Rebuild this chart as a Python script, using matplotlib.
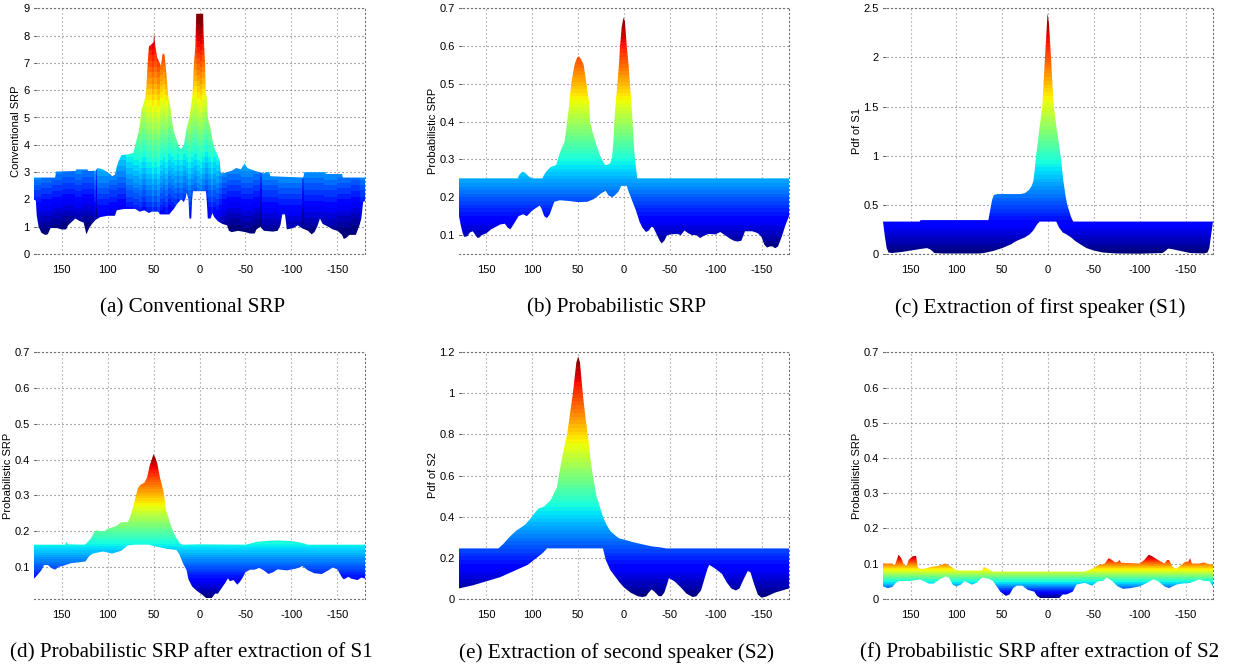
# 六个子图: SRP 曲面的侧视轮廓, 用上下包络 + jet 渐变来画
import numpy as np
import matplotlib
matplotlib.use("Agg")
from matplotlib import pyplot as plt
from matplotlib.patches import Polygon

# (角度, 数值) 从图上读出来的包络
a_top = [(180,2.8),(157,2.8),(156,3.02),(135,3.04),(134,3.1),(122,3.1),(121,3.04),(113,3.05),(111,3.15),(105,3.1),(98,2.95),(95,2.85),(92,2.9),(90,3.2),(88,3.4),(85,3.62),(78,3.65),(72,3.7),(70,3.98),(66,4.5),(65,4.76),(63,5.3),(60,5.6),(58,6.0),(56,7.2),(55,7.6),(50,7.75),(49.5,8.1),(48,7.6),(46,7.2),(42,6.9),(40,7.35),(38,7.3),(36,6.6),(34,5.8),(32,5.45),(30,4.9),(28,4.5),(25,4.2),(22,3.9),(20,3.85),(17,4.0),(14,4.6),(11,5.0),(8,5.7),(7,6.2),(6,7.0),(4.5,7.6),(3.6,8.8),(-4,8.8),(-4.5,8.0),(-6,7.0),(-7,6.0),(-8.5,5.5),(-9,5.0),(-12,4.6),(-14,4.2),(-16,3.9),(-20,3.6),(-22,3.4),(-23,3.0),(-25,2.95),(-30,3.0),(-35,3.05),(-40,3.15),(-45,3.1),(-49,3.32),(-52,3.15),(-60,3.05),(-65,3.0),(-70,2.95),(-72,3.0),(-76,3.0),(-77,2.85),(-113,2.8),(-114,3.0),(-137,3.0),(-138,2.93),(-155,2.93),(-156,2.8),(-180,2.8)]
a_low = [(180,2.0),(178,1.95),(177,1.4),(175,1.0),(172,0.78),(168,0.7),(165,0.72),(162,0.95),(155,0.95),(150,0.9),(145,0.9),(143,1.05),(135,1.3),(130,1.2),(126,1.15),(123,0.72),(120,0.95),(117,1.1),(113,1.25),(108,1.35),(100,1.4),(92,1.4),(90,1.6),(82,1.65),(75,1.65),(70,1.65),(65,1.55),(60,1.6),(55,1.5),(52,1.55),(45,1.55),(43,1.45),(35,1.45),(33,1.45),(28,1.65),(24,1.85),(20,2.0),(17,1.9),(15,2.05),(14,2.25),(12,2.0),(11,1.3),(9,1.3),(8,2.0),(7,2.3),(-7,2.3),(-8,1.9),(-9,1.3),(-12,1.3),(-14,1.5),(-16,1.35),(-20,1.2),(-25,1.1),(-30,1.05),(-32,0.85),(-35,0.8),(-42,0.85),(-50,0.8),(-55,0.75),(-60,0.75),(-62,0.9),(-66,1.0),(-70,0.85),(-80,0.82),(-85,0.85),(-88,1.05),(-90,1.45),(-93,1.45),(-95,0.9),(-102,0.95),(-107,1.05),(-111,0.95),(-118,0.85),(-122,0.72),(-125,0.8),(-128,1.0),(-131,1.3),(-134,1.1),(-140,1.0),(-145,0.9),(-150,0.85),(-155,0.7),(-157,0.55),(-160,0.6),(-163,0.7),(-170,0.7),(-174,1.05),(-176,1.3),(-178,1.9),(-180,1.95)]
# (a) 的竖条纹: 每段起始角度和颜色偏移
a_shade = [(180,-.1),(172,-.2),(160,-.3),(150,-.4),(135,-.3),(128,-.4),(115,-.1),(113,-.7),(111,0),(98,-.1),(90,-.2),(80,.1),(72,.2),(66,.3),(62,.1),(58,.3),(52,.5),(49,.3),(46,.5),(43,.2),(40,.1),(37,.3),(34,0),(31,.1),(28,.2),(25,0),(22,.2),(18,0),(15,.1),(12,.3),(9,.1),(6,0),(3,.2),(0,.3),(-3,.1),(-6,-.1),(-9,.1),(-12,.3),(-15,.1),(-18,.2),(-21,0),(-24,-.2),(-30,-.3),(-45,-.2),(-58,-.3),(-66,-.6),(-68,-.1),(-85,0),(-100,0),(-112,-.5),(-114,-.15),(-135,-.1),(-150,-.2),(-165,-.3),(-175,-.1)]

b_top = [(180,.25),(116,.25),(114,.26),(111,.267),(108,.265),(104,.255),(100,.25),(89,.25),(87,.26),(84,.27),(80,.28),(74,.285),(71,.31),(68,.33),(65,.345),(63,.38),(60,.44),(57.6,.5),(54,.55),(51,.57),(49,.572),(47,.565),(44,.55),(41,.5),(38,.45),(37,.4),(34,.37),(31.5,.35),(29,.33),(26,.31),(23,.295),(20.6,.285),(19,.285),(15,.29),(13,.305),(11.5,.35),(10.5,.4),(9,.45),(7.2,.5),(5.5,.55),(4.3,.6),(2.5,.65),(.5,.675),(-1,.665),(-3,.6),(-5,.55),(-6.5,.5),(-8,.45),(-9.4,.4),(-11,.33),(-12,.3),(-13.5,.27),(-14.5,.25),(-180,.25)]
b_low = [(180,.15),(178,.125),(176,.105),(174,.095),(171,.097),(168,.107),(165,.11),(162,.1),(160,.093),(158,.093),(155,.1),(150,.105),(145,.115),(135,.128),(130,.13),(127,.12),(124,.115),(120,.13),(115,.15),(110,.155),(106,.15),(100,.165),(92,.178),(90,.17),(87,.15),(84,.145),(81,.155),(78,.175),(76,.188),(70,.192),(60,.19),(50,.187),(40,.188),(33,.195),(25,.21),(20,.217),(17,.205),(13,.2),(10,.205),(6,.215),(3,.23),(-3,.23),(-5,.215),(-9,.19),(-13,.165),(-17,.135),(-20,.12),(-24,.108),(-27,.112),(-30,.122),(-32,.12),(-35,.105),(-39,.085),(-41,.078),(-44,.085),(-47,.1),(-52,.102),(-58,.103),(-62,.1),(-66,.112),(-70,.105),(-74,.1),(-79,.1),(-83,.092),(-87,.098),(-92,.103),(-100,.102),(-105,.108),(-110,.1),(-116,.09),(-120,.085),(-124,.083),(-128,.085),(-132,.11),(-140,.11),(-146,.105),(-150,.095),(-153,.075),(-156,.067),(-159,.07),(-162,.07),(-165,.065),(-168,.07),(-172,.095),(-176,.125),(-180,.15)]

c_top = [(180,.33),(140,.33),(139,.345),(65,.345),(64,.4),(61,.55),(59,.6),(55,.61),(30,.61),(25,.62),(21,.65),(18,.69),(16,.74),(14.5,.85),(13,1.0),(11,1.15),(9,1.3),(6.2,1.5),(4.5,1.8),(3.3,2.0),(2,2.2),(.5,2.45),(-1,2.35),(-3.3,2.0),(-5,1.7),(-6.5,1.5),(-9,1.3),(-13.8,1.0),(-16.7,.75),(-19,.6),(-21,.5),(-25,.38),(-27.5,.33),(-180,.33)]
c_low = [(180,.33),(178,.18),(176,.06),(174,.015),(170,.01),(165,.015),(160,.02),(150,.035),(140,.05),(132,.06),(128,.045),(124,.01),(115,.005),(90,.005),(75,.005),(70,.01),(60,.03),(50,.06),(40,.1),(35,.13),(30,.15),(25,.17),(20,.2),(16,.24),(12,.3),(9,.33),(-9,.33),(-12,.27),(-16,.22),(-20,.2),(-25,.17),(-30,.13),(-35,.1),(-42,.06),(-50,.035),(-60,.015),(-75,.005),(-100,.003),(-125,.01),(-128,.03),(-131,.055),(-135,.05),(-145,.03),(-155,.01),(-170,.005),(-174,.015),(-176,.06),(-178,.2),(-180,.33)]

d_top = [(180,.162),(146,.162),(145,.17),(143,.163),(125,.162),(122,.168),(118,.18),(115,.195),(112,.202),(108,.2),(103,.2),(100,.207),(95,.21),(90,.215),(85,.225),(78,.225),(76,.235),(73,.26),(70,.29),(67,.32),(64,.33),(60,.335),(57,.35),(54,.385),(50,.415),(48,.405),(46,.39),(43,.35),(40,.32),(38.4,.3),(36.5,.26),(34,.24),(31,.215),(28,.195),(25,.18),(21,.165),(18,.162),(0,.163),(-50,.162),(-55,.165),(-62,.17),(-75,.173),(-85,.174),(-100,.172),(-110,.168),(-118,.162),(-180,.162)]
d_low = [(180,.067),(177,.075),(172,.09),(169,.105),(165,.105),(160,.095),(157,.092),(153,.1),(148,.103),(140,.11),(130,.113),(124,.115),(120,.13),(116,.137),(105,.143),(95,.137),(85,.145),(78,.16),(70,.162),(55,.162),(48,.157),(35,.15),(25,.147),(22,.135),(18,.11),(14,.09),(12,.065),(8,.045),(3,.033),(-3,.022),(-7,.013),(-13,.012),(-17,.025),(-20,.025),(-24,.04),(-28,.055),(-31,.068),(-33,.06),(-37,.063),(-41,.05),(-44,.058),(-47,.07),(-50,.085),(-55,.092),(-60,.092),(-65,.097),(-70,.09),(-75,.08),(-80,.085),(-85,.093),(-95,.09),(-105,.095),(-112,.102),(-118,.09),(-125,.082),(-133,.08),(-140,.09),(-145,.098),(-150,.093),(-155,.07),(-157,.065),(-162,.072),(-165,.067),(-172,.063),(-176,.07),(-180,.067)]

e_top = [(180,.245),(137,.245),(132,.265),(125,.3),(118,.33),(113,.345),(108,.36),(103,.385),(97,.42),(93,.44),(87.7,.447),(80,.48),(73,.545),(71,.6),(67,.7),(62,.8),(58,.93),(55.8,1.0),(52,1.15),(50,1.18),(48,1.15),(45,1.0),(42,.88),(39.5,.8),(36.5,.68),(34,.6),(30,.5),(23,.4),(19,.36),(15,.33),(10,.31),(5.4,.294),(0,.288),(-10,.275),(-20,.265),(-30,.255),(-40,.25),(-46,.245),(-180,.245)]
e_low = [(180,.05),(165,.065),(150,.085),(135,.105),(120,.135),(105,.165),(95,.2),(88,.225),(84,.245),(23,.245),(20,.19),(15,.14),(10,.11),(5,.08),(0,.055),(-7,.03),(-15,.012),(-20,.008),(-24,.012),(-27,.03),(-30,.045),(-33,.035),(-38,.012),(-41,.012),(-44,.03),(-47,.07),(-49,.1),(-55,.085),(-62,.055),(-68,.025),(-75,.008),(-79,.012),(-84,.04),(-88,.1),(-91,.145),(-93,.165),(-100,.145),(-107,.12),(-112,.08),(-117,.05),(-122,.04),(-126,.05),(-130,.09),(-135,.135),(-138,.128),(-142,.07),(-146,.02),(-150,.005),(-155,.01),(-165,.03),(-180,.05)]

f_top = [(180,.1),(170,.1),(167,.095),(165,.11),(163,.125),(160,.115),(157,.095),(154,.095),(152,.11),(148,.12),(144,.122),(142,.09),(140,.085),(135,.085),(128,.09),(120,.093),(112,.1),(105,.09),(100,.08),(72,.08),(70,.09),(66,.085),(60,.077),(-40,.077),(-48,.085),(-55,.095),(-62,.1),(-66,.115),(-70,.11),(-73,.103),(-76,.105),(-78,.11),(-80,.102),(-100,.1),(-105,.11),(-110,.125),(-114,.12),(-120,.11),(-127,.1),(-130,.11),(-132,.11),(-136,.09),(-140,.085),(-145,.095),(-150,.105),(-153,.105),(-155,.115),(-157,.1),(-165,.1),(-170,.103),(-175,.098),(-180,.097)]
f_low = [(180,.035),(175,.03),(170,.033),(166,.045),(163,.05),(150,.05),(140,.055),(130,.043),(125,.043),(118,.055),(112,.063),(108,.06),(104,.04),(100,.035),(95,.04),(91,.05),(87,.045),(83,.04),(78,.045),(72,.06),(65,.057),(60,.05),(56,.035),(52,.02),(46,.008),(42,.012),(38,.03),(34,.037),(28,.037),(22,.025),(15,.02),(12,.008),(8,.001),(-12,.001),(-16,.012),(-20,.012),(-27,.02),(-31,.04),(-40,.045),(-48,.037),(-55,.05),(-60,.05),(-64,.06),(-70,.05),(-76,.035),(-82,.028),(-90,.03),(-100,.035),(-108,.045),(-115,.055),(-120,.05),(-127,.035),(-132,.03),(-140,.04),(-146,.043),(-155,.045),(-165,.055),(-170,.05),(-176,.05),(-180,.035)]

x_ticks = [150, 100, 50, 0, -50, -100, -150]
a_yticks = [0, 1, 2, 3, 4, 5, 6, 7, 8, 9]
b_yticks = [0.1, 0.2, 0.3, 0.4, 0.5, 0.6, 0.7]
c_yticks = [0, 0.5, 1, 1.5, 2, 2.5]
e_yticks = [0, 0.2, 0.4, 0.6, 0.8, 1, 1.2]
f_yticks = [0, 0.1, 0.2, 0.3, 0.4, 0.5, 0.6, 0.7]

W, H = 1236, 668
plt.rcParams['font.family'] = ['Liberation Sans', 'DejaVu Sans']
plt.rcParams['axes.unicode_minus'] = False  # 刻度用普通连字符
fig = plt.figure(figsize=(W / 100, H / 100), dpi=100)
DOTS = (0, (1, 2.6))


def panel(box, top, low, ylim, clim, yticks, ylabel, label_x, caption, cap_x, cap_y, shade=None, levels=64):
    left, right, y_top, y_bottom = box
    ax = fig.add_axes([left / W, 1 - y_bottom / H, (right - left) / W, (y_bottom - y_top) / H])
    top = np.array(top)
    low = np.array(low)
    # 渐变图裁剪到上下包络围成的多边形
    grad = np.linspace(clim[0], clim[1], 256).reshape(-1, 1)
    if shade is not None:
        # 每列加一点偏移, 做出竖条纹; 角度从 -180 到 180
        cols = np.arange(-180, 180) + 0.5
        off = np.zeros(cols.size)
        for ang, val in shade:
            off[cols <= ang] = val
        grad = grad + off
    im = ax.imshow(grad, cmap=plt.get_cmap('jet', levels), vmin=clim[0], vmax=clim[1], origin='lower',
                   aspect='auto', extent=(-180, 180, clim[0], clim[1]), zorder=3, interpolation='nearest')
    poly = Polygon(np.vstack([top, low[::-1]]), closed=True, transform=ax.transData, fc='none', ec='none')
    ax.add_patch(poly)
    im.set_clip_path(poly)

    ax.set_xlim(180, -180)
    ax.set_ylim(ylim)
    ax.set_xticks(x_ticks)
    ax.set_yticks(yticks)
    ax.set_yticklabels(['%g' % v for v in yticks])
    ax.set_axisbelow(True)
    ax.grid(True, axis='y', linestyle=DOTS, linewidth=0.8, color='0.4')
    ax.grid(True, axis='x', linestyle=DOTS, linewidth=0.8, color='0.55')
    ax.tick_params(axis='both', labelsize=8, length=2, width=0.6, direction='in', pad=3, color='0.3')
    ax.tick_params(axis='x', length=0, pad=8)
    for name in ax.spines:
        ax.spines[name].set_linestyle(DOTS)
        ax.spines[name].set_linewidth(0.8)
        ax.spines[name].set_color('0.45')
    ax.spines['left'].set_visible(False)
    ax.set_ylabel(ylabel, fontsize=8, va='center')
    ax.yaxis.set_label_coords((label_x + 2.5 - left) / (right - left), 0.5)
    fig.text(cap_x / W, 1 - cap_y / H, caption, family=['Liberation Serif', 'DejaVu Serif'],
             fontsize=15.2, ha='center', va='center')


panel((34, 365, 8.3, 254), a_top, a_low, (0, 9), (0.55, 8.8), a_yticks, 'Conventional SRP', 14,
      '(a) Conventional SRP', 192.5, 308, shade=a_shade, levels=40)
panel((459, 789, 8, 254), b_top, b_low, (0.05, 0.7), (0.065, 0.675), b_yticks, 'Probabilistic SRP', 431,
      '(b) Probabilistic SRP', 616.5, 308)
panel((883, 1213, 8.3, 254), c_top, c_low, (0, 2.5), (0.003, 2.45), c_yticks, 'Pdf of S1', 854,
      '(c) Extraction of first speaker (S1)', 1040.5, 308)
panel((34, 365, 352.3, 599), d_top, d_low, (0.01, 0.7), (0.012, 0.415), b_yticks, 'Probabilistic SRP', 6,
      '(d) Probabilistic SRP after extraction of S1', 191, 653)
panel((459, 789, 352.3, 598.7), e_top, e_low, (0, 1.2), (0.005, 1.18), e_yticks, 'Pdf of S2', 431,
      '(e) Extraction of second speaker (S2)', 616.5, 653)
panel((883, 1213, 352.3, 598.7), f_top, f_low, (0, 0.7), (0.001, 0.125), f_yticks, 'Probabilistic SRP', 855,
      '(f) Probabilistic SRP after extraction of S2', 1040, 653)

fig.savefig('out.png', dpi=100)
